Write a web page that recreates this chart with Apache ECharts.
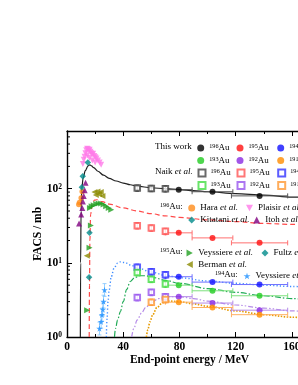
<!DOCTYPE html>
<html><head><meta charset="utf-8">
<script src="https://cdn.jsdelivr.net/npm/echarts@6/dist/echarts.min.js"></script>
<style>html,body{margin:0;padding:0;background:#fff}#c{width:298px;height:385px}</style>
</head><body><div id="c"></div>
<script>
// ---------------- data ----------------
const xTickValues = [0, 40, 80, 120, 160];
const yMinorTicks = [2,3,4,5,6,7,8,9,20,30,40,50,60,70,80,90,200,300,400,500];

// calculated curves [E (MeV), FACS (mb)]
const calc196 = [[9.5,1],[9.7,10],[10,50],[10.5,100],[11.5,140],[13,175],[15,203],[16.2,210],[17.5,203],[19,192],[22,172],[26,152],[30,138],[35,127],[40,119],[45,113],[50,108],[60,103],[70,100],[80,97],[90,94],[100,91],[120,86],[140,82],[160,77],[180,74]];
const calc195 = [[15.8,1],[16,5],[16.3,20],[16.8,45],[18,62],[19.5,70],[21,71],[25,67],[30,62],[40,55],[50,50],[60,46],[70,43],[80,41],[100,38],[120,36],[140,34],[160,33],[180,32]];
const calc194 = [[28,1],[28.5,1.8],[29.2,3],[30,4.3],[31.5,6.5],[33.5,8.5],[36,9.9],[38,10.3],[41,10.1],[46,9.2],[50,8.6],[60,7.5],[70,6.8],[80,6.3],[100,5.7],[120,5.3],[140,5.0],[160,4.8],[180,4.6]];
const calc193 = [[33.8,1],[34.5,1.3],[36,1.7],[38,2.2],[40,3.0],[42.5,4.4],[45,5.6],[48,6.3],[52,6.7],[56,6.7],[62,6.3],[70,5.8],[80,5.3],[100,4.5],[120,4.0],[140,3.6],[160,3.3],[180,3.0]];
const calc192 = [[46,1],[47.5,1.3],[50,1.7],[53,2.1],[56,2.5],[60,2.9],[65,3.3],[72,3.5],[80,3.5],[90,3.3],[100,3.05],[120,2.7],[140,2.45],[160,2.25],[180,2.1]];
const calc191 = [[56.5,1],[57.5,1.25],[59,1.6],[61,2.0],[64,2.5],[68,2.9],[73,3.05],[80,3.0],[90,2.8],[100,2.6],[120,2.25],[140,2.0],[160,1.85],[180,1.72]];

// this work
const twEnergy = [79.5, 103.5, 137];
const twEnergyLow = [70, 89, 117];
const twEnergyHigh = [89, 118, 157];
const tw196 = [97, 91, 80];
const tw195 = [25.4, 21.7, 18.6];
const tw194 = [6.5, 5.5, 5.1];
const tw193 = [5.0, 4.2, 3.6];
const tw192 = [3.5, 2.87, 2.3];
const tw191 = [2.95, 2.5, 2.0];

// Naik et al.
const naikEnergy = [50, 60, 70];
const naik196 = [102, 101, 100];
const naik195 = [31.7, 29.5, 26.6];
const naik194 = [8.75, 7.6, 6.9];
const naik193 = [7.4, 6.0, 5.2];
const naik192 = [3.4, 4.0, 3.5];
const naik191 = [null, 2.95, 3.2];

// literature [E, FACS]
const hara196 = [[8.4,61],[8.9,65],[10.1,75],[10.8,92]];
const plaisir196 = [[11.3,215],[11.9,245],[12.5,270],[13.1,300],[13.7,330],[14.3,345],[14.9,340],[15.5,325],[16.1,335],[16.7,315],[17.3,300],[17.9,290],[18.6,295],[19.4,275],[20.2,265],[21.0,255],[22,240],[23.2,225],[24.3,210],[14.5,280],[16,260],[18,240],[20,225]];
const kitatani196 = [[10.6,105],[11.2,147],[14.8,226]];
const itoh196 = [[8.6,34],[10.1,45],[10.9,55],[11.3,67],[11.9,80],[12.6,95],[13.2,120]];
const veyssiere195 = [[14.3,2.3],[16,16],[17,32],[16.3,55],[17.5,58],[19,60],[20.8,62],[22.5,63],[24.3,63],[26,61],[27.9,58],[29.7,55],[31.5,52]];
const fultz195 = [[15.7,6.4],[16,25.5]];
const berman195 = [[14.1,12.5],[19.5,90],[20.5,82],[21.7,92],[22.8,84],[24,90],[25.2,80]];
const veyssiere194 = [[23.1,1.3],[24.3,1.6],[24.9,2.0],[25.5,2.35],[26.0,3.0],[26.7,4.3]];

// ---------------- styling ----------------
const SERIF = 'Liberation Serif';
const isoColors = {196:'#000000',195:'#ff1010',194:'#1010ff',193:'#22cc22',192:'#8a2be2',191:'#ff8c00'};
const barColors = {196:'#555555',195:'#ff7070',194:'#7070ff',193:'#7ee07e',192:'#b58be8',191:'#ffb060'};
const naikColors = {196:'#444444',195:'#ff5555',194:'#3333ff',193:'#44dd44',192:'#9955ee',191:'#ff9933'};

const twSets = {196:tw196,195:tw195,194:tw194,193:tw193,192:tw192,191:tw191};
const naikSets = {196:naik196,195:naik195,194:naik194,193:naik193,192:naik192,191:naik191};

const STAR = 'path://M50,0 L61,35 L98,35 L68,57 L79,91 L50,70 L21,91 L32,57 L2,35 L39,35 Z';
const TRI_DOWN = 'path://M0,0 L10,0 L5,9 Z';
const TRI_RIGHT = 'path://M0,0 L9,5 L0,10 Z';
const TRI_LEFT = 'path://M9,0 L0,5 L9,10 Z';

const series = [];

// curves
const curveDefs = [
  [calc196, '#222222', 'solid', 1.2],
  [calc195, '#ff4a4a', [5,3], 1.2],
  [calc194, '#3d8bff', [1.2,2.2], 1.4],
  [calc193, '#1faa55', [6,2,1.5,2], 1.2],
  [calc192, '#b58be8', [5,2,1.5,2,1.5,2], 1.2],
  [calc191, '#e69a00', [1.5,1.5], 1.6]
];
curveDefs.forEach((d, i) => series.push({
  type:'line', name:'calc'+i, data:d[0], symbol:'none', smooth:0.35, smoothMonotone:'x',
  lineStyle:{color:d[1], type:d[2], width:d[3]}, z:2, silent:true
}));

// error bars: this work (horizontal)
const twBars = [];
[196,195,194,193,192,191].forEach(m => twSets[m].forEach((v, k) => twBars.push([twEnergyLow[k], twEnergyHigh[k], v, m])));
series.push({
  type:'custom', name:'twBars', data:twBars, encode:{x:[0,1], y:2}, z:3, silent:true,
  renderItem:(p, api) => {
    const a = api.coord([api.value(0), api.value(2)]);
    const b = api.coord([api.value(1), api.value(2)]);
    const c = barColors[api.value(3)];
    const st = {stroke:c, lineWidth:1};
    return {type:'group', children:[
      {type:'line', shape:{x1:a[0],y1:a[1],x2:b[0],y2:b[1]}, style:st},
      {type:'line', shape:{x1:a[0],y1:a[1]-2.5,x2:a[0],y2:a[1]+2.5}, style:st},
      {type:'line', shape:{x1:b[0],y1:b[1]-2.5,x2:b[0],y2:b[1]+2.5}, style:st}
    ]};
  }
});

// error bars: Naik (vertical)
const naikBars = [];
[196,195,194,193,192,191].forEach(m => naikSets[m].forEach((v, k) => { if (v != null) naikBars.push([naikEnergy[k], v*0.9, v*1.1, m]); }));
series.push({
  type:'custom', name:'naikBars', data:naikBars, encode:{x:0, y:[1,2]}, z:3, silent:true,
  renderItem:(p, api) => {
    const a = api.coord([api.value(0), api.value(1)]);
    const b = api.coord([api.value(0), api.value(2)]);
    const st = {stroke:naikColors[api.value(3)], lineWidth:0.8};
    return {type:'group', children:[
      {type:'line', shape:{x1:a[0],y1:a[1],x2:b[0],y2:b[1]}, style:st},
      {type:'line', shape:{x1:a[0]-2,y1:a[1],x2:a[0]+2,y2:a[1]}, style:st},
      {type:'line', shape:{x1:b[0]-2,y1:b[1],x2:b[0]+2,y2:b[1]}, style:st}
    ]};
  }
});

// error bars: Veyssiere 194 stars (vertical)
series.push({
  type:'custom', name:'veyBars', data:veyssiere194.map(p => [p[0], p[1]*0.82, p[1]*1.22]), encode:{x:0, y:[1,2]}, z:3, silent:true,
  renderItem:(p, api) => {
    const a = api.coord([api.value(0), api.value(1)]);
    const b = api.coord([api.value(0), api.value(2)]);
    const st = {stroke:'#7fc4ff', lineWidth:0.8};
    return {type:'group', children:[
      {type:'line', shape:{x1:a[0],y1:a[1],x2:b[0],y2:b[1]}, style:st},
      {type:'line', shape:{x1:a[0]-2,y1:a[1],x2:a[0]+2,y2:a[1]}, style:st},
      {type:'line', shape:{x1:b[0]-2,y1:b[1],x2:b[0]+2,y2:b[1]}, style:st}
    ]};
  }
});

// this work points
[196,195,194,193,192,191].forEach(m => series.push({
  type:'scatter', name:'tw'+m, data:twSets[m].map((v,k)=>[twEnergy[k], v]),
  symbol:'circle', symbolSize:6, itemStyle:{color:isoColors[m]}, z:5
}));
// Naik points
[196,195,194,193,192,191].forEach(m => series.push({
  type:'scatter', name:'naik'+m, data:naikSets[m].map((v,k)=>[naikEnergy[k], v]).filter(p=>p[1]!=null),
  symbol:'emptyRect', symbolSize:5.5, itemStyle:{color:naikColors[m], borderColor:naikColors[m], borderWidth:1}, z:4
}));
// literature
const litDefs = [
  ['hara', hara196, 'circle', 5.5, '#ff8c1a'],
  ['plaisir', plaisir196, TRI_DOWN, 6, '#ff7ae8'],
  ['kitatani', kitatani196, 'diamond', 6.5, '#008b8b'],
  ['itoh', itoh196, 'triangle', 6, '#800080'],
  ['vey195', veyssiere195, TRI_RIGHT, 6, '#22a022'],
  ['fultz', fultz195, 'diamond', 6.5, '#008b8b'],
  ['berman', berman195, TRI_LEFT, 6, '#8b8b00'],
  ['vey194', veyssiere194, STAR, 6.5, '#1e90ff']
];
litDefs.forEach(d => series.push({
  type:'scatter', name:d[0], data:d[1], symbol:d[2], symbolSize:d[3], itemStyle:{color:d[4]}, z:4
}));

// minor ticks on log y axis
series.push({
  type:'custom', name:'yminor', data:yMinorTicks.map(v=>[0,v]), encode:{x:0,y:1}, silent:true, z:10,
  renderItem:(p, api) => {
    const a = api.coord([0, api.value(1)]);
    return {type:'line', shape:{x1:a[0], y1:a[1], x2:a[0]+3, y2:a[1]}, style:{stroke:'#000', lineWidth:1}};
  }
});

// ---------------- legend ----------------
const iso = m => '{s|' + m + '}{n|Au}';
const etal = n => '{n|' + n + ' }{i|et al.}';
const legendLabels = {
  tw196:iso(196), tw195:iso(195), tw194:iso(194), tw193:iso(193), tw192:iso(192), tw191:iso(191),
  naik196:iso(196), naik195:iso(195), naik194:iso(194), naik193:iso(193), naik192:iso(192), naik191:iso(191),
  hara:etal('Hara'), plaisir:etal('Plaisir'), kitatani:etal('Kitatani'), itoh:etal('Itoh'),
  vey195:etal('Veyssiere'), fultz:etal('Fultz'), berman:etal('Berman'), vey194:etal('Veyssiere')
};
const legendSpec = [
  ['tw196',200.7,147],['tw195',240,147],['tw194',280.7,147],
  ['tw193',200.7,159.5],['tw192',240,159.5],['tw191',280.7,159.5],
  ['naik196',201,172],['naik195',240,172],['naik194',280.7,172],
  ['naik193',201,184.5],['naik192',240,184.5],['naik191',280.7,184.5],
  ['hara',191.7,207],['plaisir',249.5,207],
  ['kitatani',191.7,219],['itoh',256.7,219],
  ['vey195',190,252],['fultz',265,252],
  ['berman',190,263.5],
  ['vey194',247,275]
];
const richLegend = {
  n:{fontFamily:SERIF, fontSize:9, color:'#000'},
  i:{fontFamily:SERIF, fontSize:9, fontStyle:'italic', color:'#000'},
  s:{fontFamily:SERIF, fontSize:6.2, color:'#000', verticalAlign:'top'}
};
const legends = legendSpec.map(([n,x,y]) => ({
  data:[n], left:x-3.5, top:y-3.5, itemWidth:7, itemHeight:7, itemGap:0, padding:0,
  selectedMode:false, formatter:name => legendLabels[name],
  textStyle:{fontFamily:SERIF, fontSize:9, color:'#000', rich:richLegend}
}));

const gtext = (txt, x, y) => ({type:'text', x:x, y:y, silent:true, z:100,
  style:{text:txt, verticalAlign:'middle', align:'left', font:'9px "Liberation Serif"', fill:'#000', rich:richLegend}});

const graphics = [
  gtext('{n|This work}', 155, 147),
  gtext('{n|Naik }{i|et al.}', 155, 172),
  gtext('{s|196}{n|Au:}', 160, 207),
  gtext('{s|195}{n|Au:}', 160, 252),
  gtext('{s|194}{n|Au:}', 215, 275)
];

// ---------------- axes ----------------
const axisLineStyle = {color:'#000', width:1.4};
const xBase = {
  type:'value', min:0, max:180, interval:40,
  axisLine:{show:true, onZero:false, lineStyle:axisLineStyle},
  axisTick:{show:true, inside:true, length:5, lineStyle:{color:'#000', width:1}},
  minorTick:{show:true, splitNumber:2, length:3, lineStyle:{color:'#000', width:1}},
  splitLine:{show:false}, minorSplitLine:{show:false}
};
const option = {
  animation:false,
  backgroundColor:'#fff',
  grid:{left:67, width:253, top:131, height:206, containLabel:false, outerBoundsMode:'none'},
  xAxis:[
    Object.assign({}, xBase, {
      position:'bottom',
      axisLabel:{show:true, margin:4, fontFamily:SERIF, fontWeight:'bold', fontSize:11.5, color:'#000',
        formatter:v => xTickValues.indexOf(v) >= 0 ? String(v) : ''},
      name:'End-point energy / MeV', nameLocation:'middle', nameGap:17, nameMoveOverlap:false,
      nameTextStyle:{fontFamily:SERIF, fontWeight:'bold', fontSize:11.5, color:'#000', padding:[0,8,0,0]}
    }),
    Object.assign({}, xBase, {position:'top', axisLabel:{show:false}})
  ],
  yAxis:{
    type:'log', logBase:10, min:1, max:600,
    axisLine:{show:true, lineStyle:axisLineStyle},
    axisTick:{show:true, inside:true, length:5, lineStyle:{color:'#000', width:1}},
    splitLine:{show:false},
    axisLabel:{margin:5, formatter:v => {
        const e = Math.round(Math.log10(v));
        if (Math.abs(Math.pow(10, e) - v) > 1e-6 * v) return '';
        return '{b|10}{s|' + e + '}';
      },
      rich:{b:{fontFamily:SERIF, fontWeight:'bold', fontSize:11.5, color:'#000'},
            s:{fontFamily:SERIF, fontWeight:'bold', fontSize:7.5, color:'#000', verticalAlign:'top'}}},
    name:'FACS / mb', nameLocation:'middle', nameGap:23, nameMoveOverlap:false,
    nameTextStyle:{fontFamily:SERIF, fontWeight:'bold', fontSize:11.5, color:'#000'}
  },
  legend:legends,
  graphic:graphics,
  series:series
};
const chart = echarts.init(document.getElementById('c'), null, {renderer:'canvas'});
chart.setOption(option);
</script></body></html>
